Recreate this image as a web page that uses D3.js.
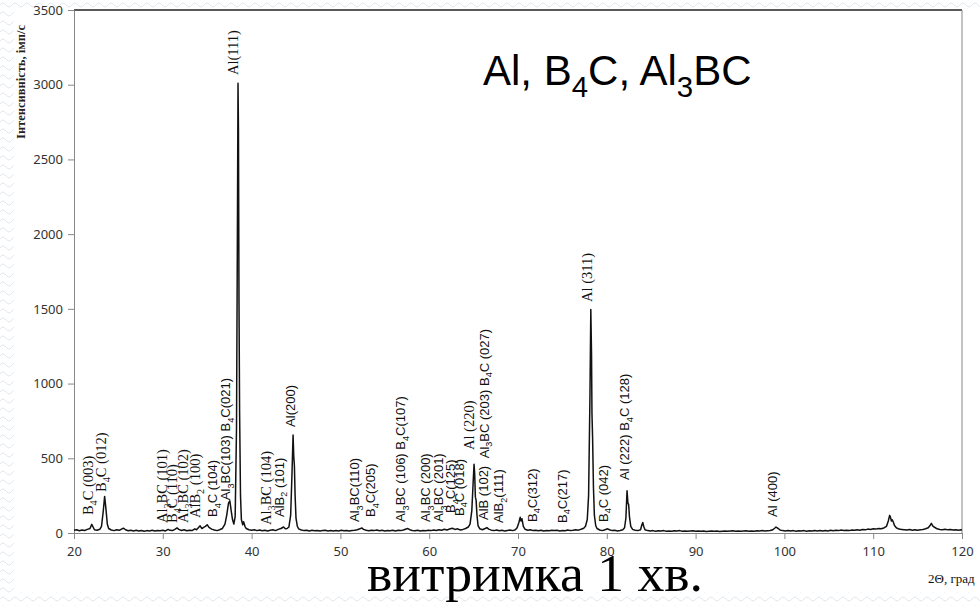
<!DOCTYPE html>
<html>
<head>
<meta charset="utf-8">
<script src="https://cdn.jsdelivr.net/npm/d3@7"></script>
<style>
  html, body { margin: 0; padding: 0; background: #fff; }
  svg { display: block; }
</style>
</head>
<body>
<div id="chart"></div>
<script>

// 2theta (deg) and intensity (imp/s)
var twoTheta = [
  20.0, 20.3, 20.6, 20.9, 21.2, 21.5, 21.8, 22.0, 22.15, 22.3, 22.6, 22.9, 23.1, 23.3, 23.45, 23.6, 23.75, 23.9,
  24.2, 24.5, 24.8, 25.1, 25.4, 25.6, 25.8, 26.1, 26.4, 26.7, 27.0, 27.3, 27.6, 27.9, 28.2, 28.5, 28.8, 29.1,
  29.4, 29.7, 30.0, 30.3, 30.6, 30.8, 31.1, 31.4, 31.6, 31.8, 32.1, 32.4, 32.7, 33.0, 33.3, 33.6, 33.8, 34.0,
  34.2, 34.4, 34.6, 34.8, 35.0, 35.2, 35.5, 35.8, 36.1, 36.4, 36.7, 37.0, 37.2, 37.4, 37.55, 37.7, 37.85, 38.0,
  38.15, 38.3, 38.4, 38.47, 38.52, 38.58, 38.65, 38.75, 38.85, 39.0, 39.1, 39.25, 39.4, 39.7, 40.0, 40.3, 40.6,
  40.9, 41.2, 41.5, 41.8, 42.1, 42.4, 42.7, 43.0, 43.3, 43.6, 43.8, 44.0, 44.2, 44.4, 44.55, 44.67, 44.75, 44.82,
  44.9, 45.0, 45.15, 45.3, 45.6, 45.9, 46.2, 46.5, 46.8, 47.1, 47.4, 47.7, 48.0, 48.3, 48.6, 48.9, 49.2, 49.5,
  49.8, 50.1, 50.4, 50.7, 51.0, 51.3, 51.6, 51.9, 52.2, 52.4, 52.6, 52.9, 53.2, 53.5, 53.8, 54.1, 54.4, 54.7,
  55.0, 55.3, 55.6, 55.9, 56.2, 56.5, 56.8, 57.1, 57.4, 57.6, 57.8, 58.1, 58.4, 58.7, 59.0, 59.3, 59.6, 59.9,
  60.2, 60.5, 60.8, 61.1, 61.4, 61.7, 62.0, 62.3, 62.6, 62.9, 63.2, 63.5, 63.8, 64.1, 64.4, 64.6, 64.8, 64.95,
  65.05, 65.12, 65.2, 65.28, 65.38, 65.5, 65.7, 66.0, 66.3, 66.5, 66.7, 67.0, 67.3, 67.6, 67.9, 68.2, 68.5,
  68.8, 69.1, 69.4, 69.7, 69.9, 70.1, 70.25, 70.35, 70.45, 70.6, 70.8, 71.1, 71.4, 71.7, 72.0, 72.3, 72.6,
  72.9, 73.2, 73.5, 73.8, 74.1, 74.4, 74.7, 75.0, 75.3, 75.6, 75.9, 76.2, 76.5, 76.8, 77.1, 77.4, 77.6, 77.8,
  77.95, 78.1, 78.2, 78.28, 78.33, 78.4, 78.5, 78.6, 78.75, 78.9, 79.2, 79.5, 79.8, 80.1, 80.3, 80.6, 80.9,
  81.2, 81.5, 81.8, 82.0, 82.15, 82.28, 82.38, 82.46, 82.55, 82.7, 82.9, 83.2, 83.5, 83.8, 83.95, 84.05, 84.15,
  84.3, 84.6, 84.9, 85.2, 85.5, 85.8, 86.1, 86.4, 86.7, 87.0, 87.3, 87.6, 87.9, 88.2, 88.5, 88.8, 89.1, 89.4,
  89.7, 90.0, 90.3, 90.6, 90.9, 91.2, 91.5, 91.8, 92.1, 92.4, 92.7, 93.0, 93.3, 93.6, 93.9, 94.2, 94.5, 94.8,
  95.1, 95.4, 95.7, 96.0, 96.3, 96.6, 96.9, 97.2, 97.5, 97.8, 98.1, 98.4, 98.7, 98.9, 99.05, 99.2, 99.35, 99.5,
  99.8, 100.1, 100.4, 100.7, 101.0, 101.3, 101.6, 101.9, 102.2, 102.5, 102.8, 103.1, 103.4, 103.7, 104.0, 104.3,
  104.6, 104.9, 105.2, 105.5, 105.8, 106.1, 106.4, 106.7, 107.0, 107.3, 107.6, 107.9, 108.2, 108.5, 108.8,
  109.1, 109.4, 109.7, 110.0, 110.3, 110.6, 110.9, 111.2, 111.5, 111.7, 111.85, 111.95, 112.05, 112.15, 112.25,
  112.4, 112.6, 112.9, 113.2, 113.5, 113.8, 114.1, 114.4, 114.7, 115.0, 115.3, 115.6, 115.9, 116.2, 116.4,
  116.55, 116.7, 116.85, 117.0, 117.2, 117.5, 117.8, 118.1, 118.4, 118.7, 119.0, 119.3, 119.6, 119.9, 120.0
];
var intensity = [
  18, 22, 15, 20, 17, 24, 30, 58, 40, 22, 18, 25, 45, 150, 245, 160, 60, 30,
  20, 16, 22, 18, 28, 32, 22, 15, 19, 14, 18, 13, 17, 12, 16, 14, 18, 13,
  17, 15, 19, 14, 24, 18, 16, 26, 34, 24, 17, 22, 15, 19, 16, 28, 22, 35,
  48, 30, 38, 44, 55, 38, 26, 20, 16, 22, 30, 60, 120, 200, 215, 150, 90, 60,
  110, 700, 2000, 3010, 2700, 1550, 800, 250, 90, 55, 75, 45, 30, 22, 18, 22, 16,
  20, 15, 19, 14, 18, 22, 16, 24, 30, 40, 28, 30, 40, 120, 400, 655, 510, 450,
  250, 100, 45, 28, 20, 16, 19, 14, 18, 15, 17, 13, 16, 18, 14, 17, 13, 16,
  14, 18, 15, 17, 13, 16, 18, 22, 28, 34, 24, 18, 15, 19, 16, 20, 15, 18,
  14, 17, 15, 19, 14, 18, 16, 20, 27, 30, 22, 17, 15, 19, 14, 17, 15, 18,
  16, 20, 17, 22, 18, 25, 20, 27, 32, 24, 28, 20, 24, 30, 40, 60, 150, 340,
  460, 400, 240, 220, 120, 50, 28, 22, 30, 36, 26, 19, 16, 20, 15, 18, 14,
  17, 20, 16, 22, 35, 70, 105, 80, 95, 45, 25, 18, 22, 16, 19, 15, 18,
  14, 17, 15, 19, 16, 18, 14, 17, 15, 20, 16, 18, 22, 19, 25, 32, 45, 90,
  250, 900, 1495, 1200, 800, 640, 300, 120, 50, 30, 20, 16, 22, 28, 22, 16, 18,
  14, 17, 22, 35, 100, 282, 200, 190, 110, 45, 24, 18, 16, 22, 55, 70, 45,
  22, 16, 13, 16, 12, 15, 13, 16, 12, 14, 11, 15, 13, 16, 12, 14, 11, 13,
  15, 12, 14, 11, 13, 10, 12, 14, 11, 13, 10, 12, 14, 11, 13, 15, 12, 14,
  11, 13, 15, 12, 14, 12, 15, 13, 16, 13, 15, 17, 22, 32, 40, 34, 28, 20,
  16, 14, 17, 13, 16, 12, 15, 13, 16, 12, 15, 13, 16, 14, 17, 13,
  16, 14, 18, 15, 18, 16, 20, 17, 19, 16, 20, 18, 22, 19, 24,
  21, 26, 24, 28, 26, 30, 28, 34, 45, 80, 118, 105, 80, 88, 75,
  50, 35, 26, 24, 22, 20, 23, 19, 22, 18, 21, 24, 28, 35, 50,
  65, 48, 40, 35, 28, 24, 22, 25, 21, 23, 20, 22, 19, 21, 20
];

var xTicks = [20, 30, 40, 50, 60, 70, 80, 90, 100, 110, 120];
var yTicks = [0, 500, 1000, 1500, 2000, 2500, 3000, 3500];

// peak labels: "_" marks a subscript digit; foot of each label at [2theta, intensity]
var peakLabels = ["B_4C (003)", "B_4C (012)", "Al_3BC (101)", "B_4C (110)", "Al_3BC (102)", "AlB_2 (100)",
  "B_4C (104)", "Al_3BC(103) B_4C(021)", "Al(111)", "Al_3BC (104)", "AlB_2 (101)", "Al(200)",
  "Al_3BC(110)", "B_4C(205)", "Al_3BC (106) B_4C(107)", "Al_3BC (200)", "Al_3BC (201)", "B_4C(125)",
  "B_4C (018)", "Al (220)", "Al_3BC (203) B_4C (027)", "AlB (102)", "AlB_2(111)", "B_4C(312)",
  "B_4C(217)", "B_4C (042)", "Al (222) B_4C (128)", "Al (311)", "Al (400)"];
var labelTheta = [22.1, 23.6, 30.5, 31.6, 32.8, 34.2, 36.1, 37.6, 38.5, 42.2, 43.6, 44.9,
  52.1, 53.9, 57.3, 60.1, 61.6, 62.9, 63.9, 65.0, 66.7, 66.6, 68.3, 72.1, 75.5, 80.1, 82.5, 78.3, 99.2];
var labelI = [120, 275, 67, 67, 67, 100, 107, 220, 3065, 54, 107, 710,
  74, 107, 74, 74, 74, 134, 114, 555, 500, 87, 67, 74, 67, 74, 355, 1546, 107];
var labelSerif = [1, 1, 1, 1, 1, 1, 0, 0, 1, 1, 0, 0,
  0, 0, 0, 0, 0, 0, 0, 1, 0, 0, 0, 0, 0, 0, 0, 1, 0];

var W = 980, H = 606;
var svg = d3.select('#chart').append('svg').attr('width', W).attr('height', H);

// wavy slide background
var defs = svg.append('defs');
var pat = defs.append('pattern').attr('id', 'waves').attr('patternUnits', 'userSpaceOnUse')
  .attr('width', 12).attr('height', 9);
pat.append('path').attr('d', 'M0 5 q3 -4 6 0 t6 0').attr('fill', 'none')
  .attr('stroke', '#dfe6ec').attr('stroke-width', 1);
svg.append('rect').attr('width', W).attr('height', H).attr('fill', '#fff');
svg.append('rect').attr('width', W).attr('height', H).attr('fill', 'url(#waves)');
svg.append('rect').attr('x', 14).attr('y', 8).attr('width', W - 14).attr('height', 584).attr('fill', '#fff');

var x = d3.scaleLinear().domain([20, 120]).range([74, 962]);
var y = d3.scaleLinear().domain([0, 3500]).range([533, 10]);

// frame
svg.append('line').attr('x1', x(20)).attr('x2', x(120)).attr('y1', y(3500)).attr('y2', y(3500))
  .attr('stroke', '#222').attr('stroke-width', 1.5);
svg.append('line').attr('x1', x(120)).attr('x2', x(120)).attr('y1', y(3500)).attr('y2', y(0))
  .attr('stroke', '#888').attr('stroke-width', 1);

var tickFont = '"Noto Sans", "Open Sans", sans-serif';

var xAxis = svg.append('g').attr('transform', 'translate(0,' + y(0) + ')')
  .call(d3.axisBottom(x).tickValues(xTicks).tickFormat(d3.format('d')).tickSize(6).tickPadding(8).tickSizeOuter(0));
var yAxis = svg.append('g').attr('transform', 'translate(' + x(20) + ',0)')
  .call(d3.axisLeft(y).tickValues(yTicks).tickFormat(d3.format('d')).tickSize(6).tickPadding(5).tickSizeOuter(0));
[xAxis, yAxis].forEach(function (g) {
  g.select('.domain').attr('stroke', '#888');
  g.selectAll('.tick line').attr('stroke', '#888');
  g.selectAll('.tick text').attr('fill', '#333').style('font-family', tickFont).style('font-size', '13px');
});

// pattern line
var pts = twoTheta.map(function (t, i) { return [t, intensity[i]]; });
var line = d3.line().x(function (d) { return x(d[0]); }).y(function (d) { return y(d[1]); });
svg.append('path').datum(pts).attr('d', line).attr('fill', 'none')
  .attr('stroke', '#111').attr('stroke-width', 1.5).attr('stroke-linejoin', 'round');

// text with subscripts
function rich(sel, str, size) {
  var parts = str.split(/(_\d)/);
  var shift = 0;
  parts.forEach(function (p) {
    if (!p) return;
    if (p[0] == '_') {
      sel.append('tspan').attr('font-size', size * 0.7).attr('dy', size * 0.28).text(p.slice(1));
      shift = 1;
    } else {
      var t = sel.append('tspan').text(p);
      if (shift) { t.attr('dy', -size * 0.28); shift = 0; }
    }
  });
}

peakLabels.forEach(function (lab, i) {
  var serif = labelSerif[i] == 1;
  var fs = serif ? 14.5 : 13;
  var t = svg.append('text')
    .attr('transform', 'translate(' + x(labelTheta[i]) + ',' + y(labelI[i]) + ') rotate(-90)')
    .attr('dy', '0.35em')
    .attr('fill', '#111')
    .style('font-family', serif ? '"Liberation Serif", serif' : '"Liberation Sans", Arial, sans-serif')
    .style('font-size', fs + 'px');
  var inner = t.append('tspan').attr('dy', 0);
  rich(inner, lab, fs);
});

// axis titles
svg.append('text')
  .attr('transform', 'translate(21,82) rotate(-90)')
  .attr('text-anchor', 'middle').attr('dy', '0.35em')
  .style('font-family', '"Liberation Serif", serif').style('font-size', '12.5px').style('font-weight', 'bold')
  .attr('fill', '#222')
  .text('Інтенсивність, імп/с');

svg.append('text').attr('x', 928).attr('y', 583)
  .style('font-family', '"Liberation Serif", serif').style('font-size', '13px').attr('fill', '#111')
  .text('2Θ, град');

// phases
var ph = svg.append('text').attr('x', 483).attr('y', 85)
  .style('font-family', '"Liberation Sans", Arial, sans-serif').style('font-size', '42px').attr('fill', '#000');
rich(ph, 'Al, B_4C, Al_3BC', 42);

// exposure caption
svg.append('text').attr('x', 367).attr('y', 591)
  .style('font-family', '"Liberation Serif", serif').style('font-size', '53px').attr('fill', '#000')
  .attr('textLength', 336).attr('lengthAdjust', 'spacingAndGlyphs')
  .text('витримка 1 хв.');

</script>
</body>
</html>
